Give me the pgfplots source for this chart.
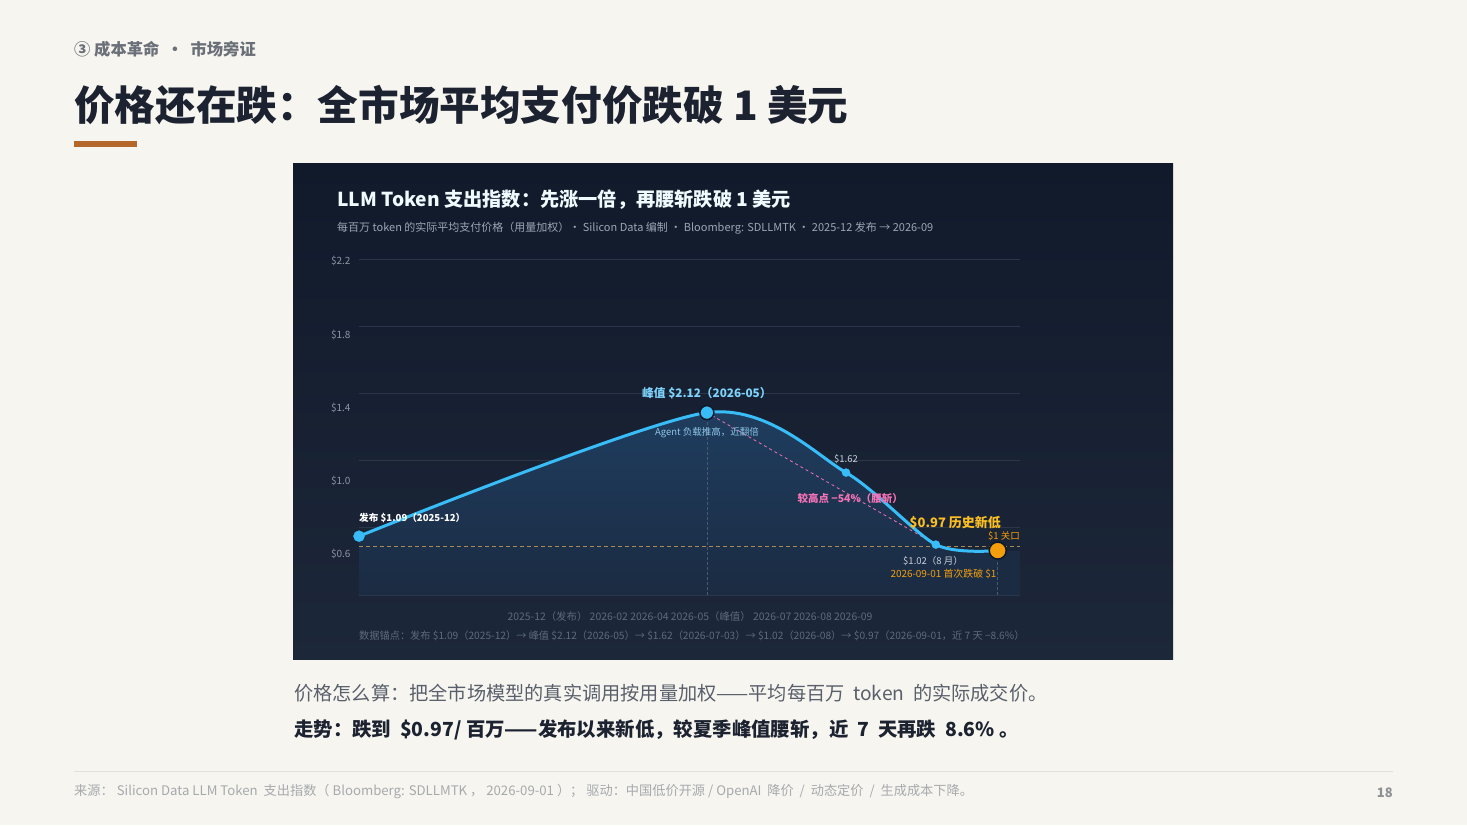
\documentclass[border=0pt]{standalone}
\usepackage{fontspec}
\setmainfont{Noto Sans CJK SC}
\usepackage{pgfplots}
\pgfplotsset{compat=1.18}

\definecolor{slidebg}{HTML}{F6F5F0}
\definecolor{kicker}{HTML}{6B6F78}
\definecolor{headink}{HTML}{1C2230}
\definecolor{rust}{HTML}{B5662B}
\definecolor{panelT}{HTML}{111A2B}
\definecolor{panelB}{HTML}{1C2739}
\definecolor{gridc}{HTML}{2A3649}
\definecolor{tickc}{HTML}{8D96A5}
\definecolor{dimc}{HTML}{5F6B7D}
\definecolor{subc}{HTML}{9BA5B5}
\definecolor{sky}{HTML}{38BDF8}
\definecolor{skylt}{HTML}{7DD3FC}
\definecolor{agentc}{HTML}{8EC5E6}
\definecolor{pale}{HTML}{C8D0DC}
\definecolor{amber}{HTML}{F59E0B}
\definecolor{amberlt}{HTML}{FBBF24}
\definecolor{gate}{HTML}{A88A55}
\definecolor{pinkc}{HTML}{F472B6}
\definecolor{vline}{HTML}{4A5A70}
\definecolor{areaT}{HTML}{1F3E60}
\definecolor{areaB}{HTML}{1B2B42}
\definecolor{ring}{HTML}{0F1829}
\definecolor{cap}{HTML}{5A606B}
\definecolor{foot}{HTML}{A7A9AD}
\definecolor{rule}{HTML}{E2E0DA}

\newcommand\fs[1]{\fontsize{#1}{#1}\selectfont}

\begin{document}
\begin{tikzpicture}[x=1pt,y=1pt]
  % slide
  \fill[slidebg] (0,0) rectangle (1467,825);
  \useasboundingbox (0,0) rectangle (1467,825);
  \node[anchor=west,inner sep=0,text=kicker] at (74,776) {\fs{16.3}\bfseries ③ 成本革命 \ · \ 市场旁证};
  \node[anchor=west,inner sep=0,text=headink] at (74,720) {\fs{40.6}\bfseries 价格还在跌：全市场平均支付价跌破 1 美元};
  \fill[rust] (74,678) rectangle (137,684);

  % chart panel
  \shade[top color=panelT,bottom color=panelB] (293,165) rectangle (1173,661);
  \node[anchor=west,inner sep=0,text=white!92!sky] at (337,625) {\fs{19.2}\bfseries LLM Token 支出指数：先涨一倍，再腰斩跌破 1 美元};
  \node[anchor=west,inner sep=0,text=subc] at (337,597) {\fs{11}每百万 token 的实际平均支付价格（用量加权）· Silicon Data 编制 · Bloomberg: SDLLMTK · 2025-12 发布 → 2026-09};

  \begin{axis}[
      at={(359pt,230pt)}, anchor=south west,
      width=661pt, height=336pt, scale only axis,
      xmin=0, xmax=9.5, ymin=0.6, ymax=3.4,
      axis line style={draw=none},
      tick style={draw=none},
      xtick=\empty,
      ytick={0.942,1.55,2.158,2.767,3.383},
      yticklabels={\$0.6,\$1.0,\$1.4,\$1.8,\$2.2},
      yticklabel style={font=\fs{10}, text=tickc, anchor=east, xshift=-5pt},
      extra y ticks={0.6,1.16,1.72,2.28,2.84,3.4},
      extra y tick labels={},
      extra y tick style={grid=major, major grid style={draw=gridc, line width=0.9pt}},
      clip=false,
    ]

    % area under the index
    \addplot[draw=none, top color=areaT, bottom color=areaB, smooth, tension=0.45]
      coordinates {(0,1.09) (5,2.12) (7.0,1.62) (8.29,1.02) (9.18,0.97)} \closedcycle;
    \fill[areaB] (axis cs:9.18,0.6) rectangle (axis cs:9.5,0.97);

    % guides
    \addplot[vline, densely dashed, line width=0.6pt] coordinates {(5,0.6) (5,2.12)};
    \addplot[vline, densely dashed, line width=0.6pt] coordinates {(9.18,0.6) (9.18,0.97)};
    \addplot[gate, dash pattern=on 4pt off 3pt, line width=1pt] coordinates {(0,1.0) (9.5,1.0)};
    \addplot[pinkc, dash pattern=on 3pt off 3pt, line width=0.8pt] coordinates {(5,2.12) (8.29,1.02)};

    % index line
    \addplot[sky, line width=3pt, smooth, tension=0.45]
      coordinates {(0,1.09) (5,2.12) (7.0,1.62) (8.29,1.02) (9.18,0.97)};

    % anchor points
    \addplot[only marks, mark=*, mark size=5.5pt, mark options={fill=sky, draw=sky}] coordinates {(0,1.09)};
    \addplot[only marks, mark=*, mark size=7pt, mark options={fill=sky, draw=ring, line width=1.5pt}] coordinates {(5,2.12)};
    \addplot[only marks, mark=*, mark size=4pt, mark options={fill=sky, draw=sky}] coordinates {(7.0,1.62) (8.29,1.02)};
    \addplot[only marks, mark=*, mark size=8.5pt, mark options={fill=amber, draw=ring, line width=1.5pt}] coordinates {(9.18,0.97)};

    % annotations
    \node[anchor=west, inner sep=0, text=white] at (axis cs:0,1.242) {\fs{9.6}\bfseries 发布 \$1.09（2025-12）};
    \node[inner sep=0, text=skylt] at (axis cs:5.0,2.283) {\fs{11.7}\bfseries 峰值 \$2.12（2026-05）};
    \node[inner sep=0, text=agentc] at (axis cs:5.0,1.95) {\fs{9.5}Agent 负载推高，近翻倍};
    \node[inner sep=0, text=pale] at (axis cs:7.0,1.733) {\fs{9.5}\$1.62};
    \node[inner sep=0, text=pinkc] at (axis cs:7.06,1.408) {\fs{10.5}\bfseries 较高点 −54\%（腰斩）};
    \node[inner sep=0, text=amberlt] at (axis cs:8.57,1.20) {\fs{13}\bfseries \$0.97 历史新低};
    \node[anchor=east, inner sep=0, text=amber] at (axis cs:9.5,1.092) {\fs{9.5}\$1 关口};
    \node[inner sep=0, text=pale] at (axis cs:8.25,0.883) {\fs{9.5}\$1.02（8 月）};
    \node[inner sep=0, text=amber] at (axis cs:8.4,0.775) {\fs{9.9}2026-09-01 首次跌破 \$1};
  \end{axis}

  \node[inner sep=0, text=dimc] at (690,208) {\fs{10.4}2025-12（发布） 2026-02 2026-04 2026-05（峰值） 2026-07 2026-08 2026-09};
  \node[anchor=west, inner sep=0, text=dimc] at (359,189) {\fs{10.2}数据锚点：发布 \$1.09（2025-12）→ 峰值 \$2.12（2026-05）→ \$1.62（2026-07-03）→ \$1.02（2026-08）→ \$0.97（2026-09-01，近 7 天 −8.6\%）};

  % captions
  \node[anchor=west, inner sep=0, text=cap] at (294,132) {\fs{19.2}价格怎么算：把全市场模型的真实调用按用量加权——平均每百万 \ token \ 的实际成交价。};
  \node[anchor=west, inner sep=0, text=headink] at (294,95) {\fs{19.4}\bfseries 走势：跌到 \ \$0.97/ 百万——发布以来新低，较夏季峰值腰斩，近 \ 7 \ 天再跌 \ 8.6\% 。};

  % footer
  \draw[rule, line width=1pt] (74,54) -- (1393,54);
  \node[anchor=west, inner sep=0, text=foot] at (74,34) {\fs{13.2}来源： Silicon Data LLM Token \ 支出指数（ Bloomberg: SDLLMTK ， 2026-09-01 ）； 驱动：中国低价开源 / OpenAI \ 降价 \ / \ 动态定价 \ / \ 生成成本下降。};
  \node[anchor=east, inner sep=0, text=foot!85!black] at (1393,32) {\fs{13}\bfseries 18};
\end{tikzpicture}
\end{document}
